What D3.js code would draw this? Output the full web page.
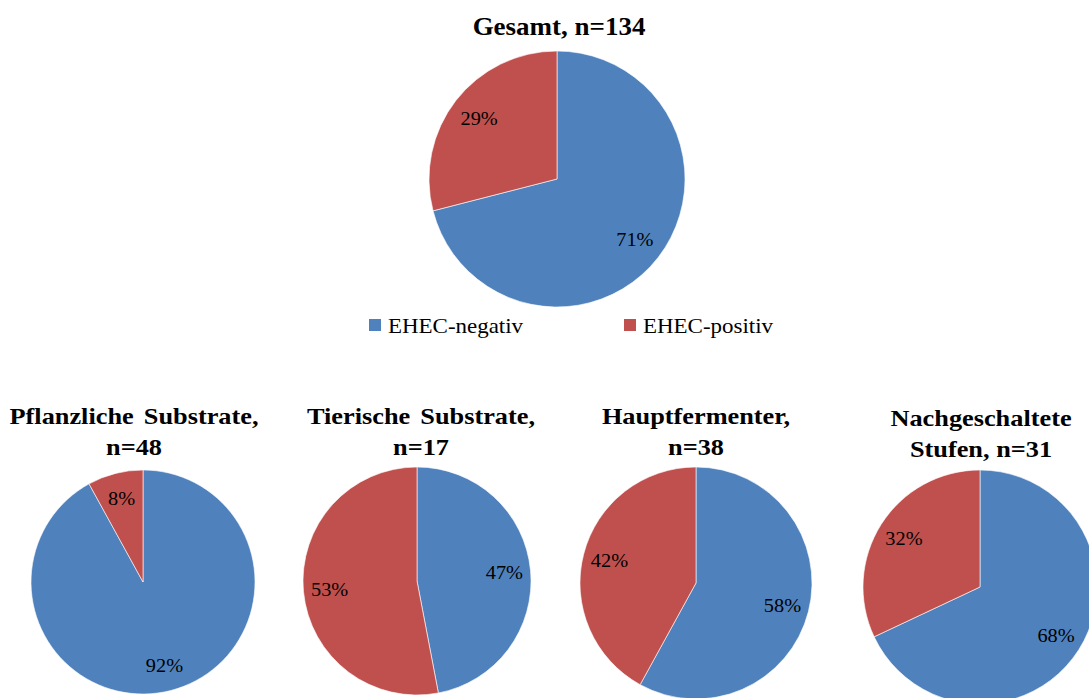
<!DOCTYPE html>
<html><head><meta charset="utf-8">
<script src="https://cdn.jsdelivr.net/npm/d3@7"></script>
<style>body{margin:0;background:#fff}svg{display:block}text{font-family:'Liberation Serif','Times New Roman',serif}</style>
</head><body>
<svg id="c" width="1089" height="698"></svg>
<script>
const seriesNames = ["EHEC-negativ", "EHEC-positiv"];
const colors = ["#4F81BD", "#C0504D"];
const groupTitles = [
  ["Gesamt, n=134"],
  ["Pflanzliche Substrate,", "n=48"],
  ["Tierische Substrate,", "n=17"],
  ["Hauptfermenter,", "n=38"],
  ["Nachgeschaltete", "Stufen, n=31"]
];
const negativValues = [71, 92, 47, 58, 68];
const positivValues = [29, 8, 53, 42, 32];

// layout: [cx, cy, r, titleX, titleY(first baseline), fontSize, lineGap, sx, wordSpacing]
const layout = [
  [557, 179, 128, 559, 35, 25, 0, 1.08, 0],
  [143, 582, 112, 134, 424, 22.5, 31, 1.17, 3],
  [417, 581, 114, 421, 424, 22.5, 31, 1.17, 3],
  [696, 583, 116, 696, 424, 22.5, 31, 1.17, 0],
  [980, 587, 117, 981, 426, 22.5, 31, 1.17, 0]
];

const svg = d3.select("#c");
const pie = d3.pie().sort(null).value(d => d.v);

groupTitles.forEach((lines, i) => {
  const [cx, cy, r, tx, ty, fs, gap, sx, ws] = layout[i];
  const data = [{k: 0, v: negativValues[i]}, {k: 1, v: positivValues[i]}];
  const arcs = pie(data);
  const arc = d3.arc().innerRadius(0).outerRadius(r);
  const lab = d3.arc().innerRadius(r * 0.77).outerRadius(r * 0.77);
  const g = svg.append("g").attr("transform", `translate(${cx},${cy})`);
  g.selectAll("path").data(arcs).join("path")
    .attr("d", arc).attr("fill", d => colors[d.data.k])
    .attr("stroke", "#fff").attr("stroke-width", 0.6);
  g.selectAll("text").data(arcs).join("text")
    .attr("transform", d => { const [x, y] = lab.centroid(d); return `translate(${x},${y}) scale(1.1,1)`; })
    .attr("text-anchor", "middle").attr("dy", "0.35em")
    .attr("font-size", 18.5).attr("fill", "#000")
    .text(d => d.data.v + "%");
  lines.forEach((ln, j) => {
    svg.append("text")
      .attr("transform", `translate(${tx},${ty + j * gap}) scale(${sx},1)`)
      .attr("text-anchor", "middle")
      .attr("font-weight", "bold").attr("font-size", fs)
      .style("word-spacing", ws + "px")
      .text(ln);
  });
});

// legend
const legendX = [369, 624];
seriesNames.forEach((name, i) => {
  svg.append("rect").attr("x", legendX[i]).attr("y", 319).attr("width", 12).attr("height", 12).attr("fill", colors[i]);
  svg.append("text")
    .attr("transform", `translate(${legendX[i] + 19},333) scale(1.12,1)`)
    .attr("font-size", 20.5).attr("fill", "#000")
    .text(name);
});
</script>
</body></html>
